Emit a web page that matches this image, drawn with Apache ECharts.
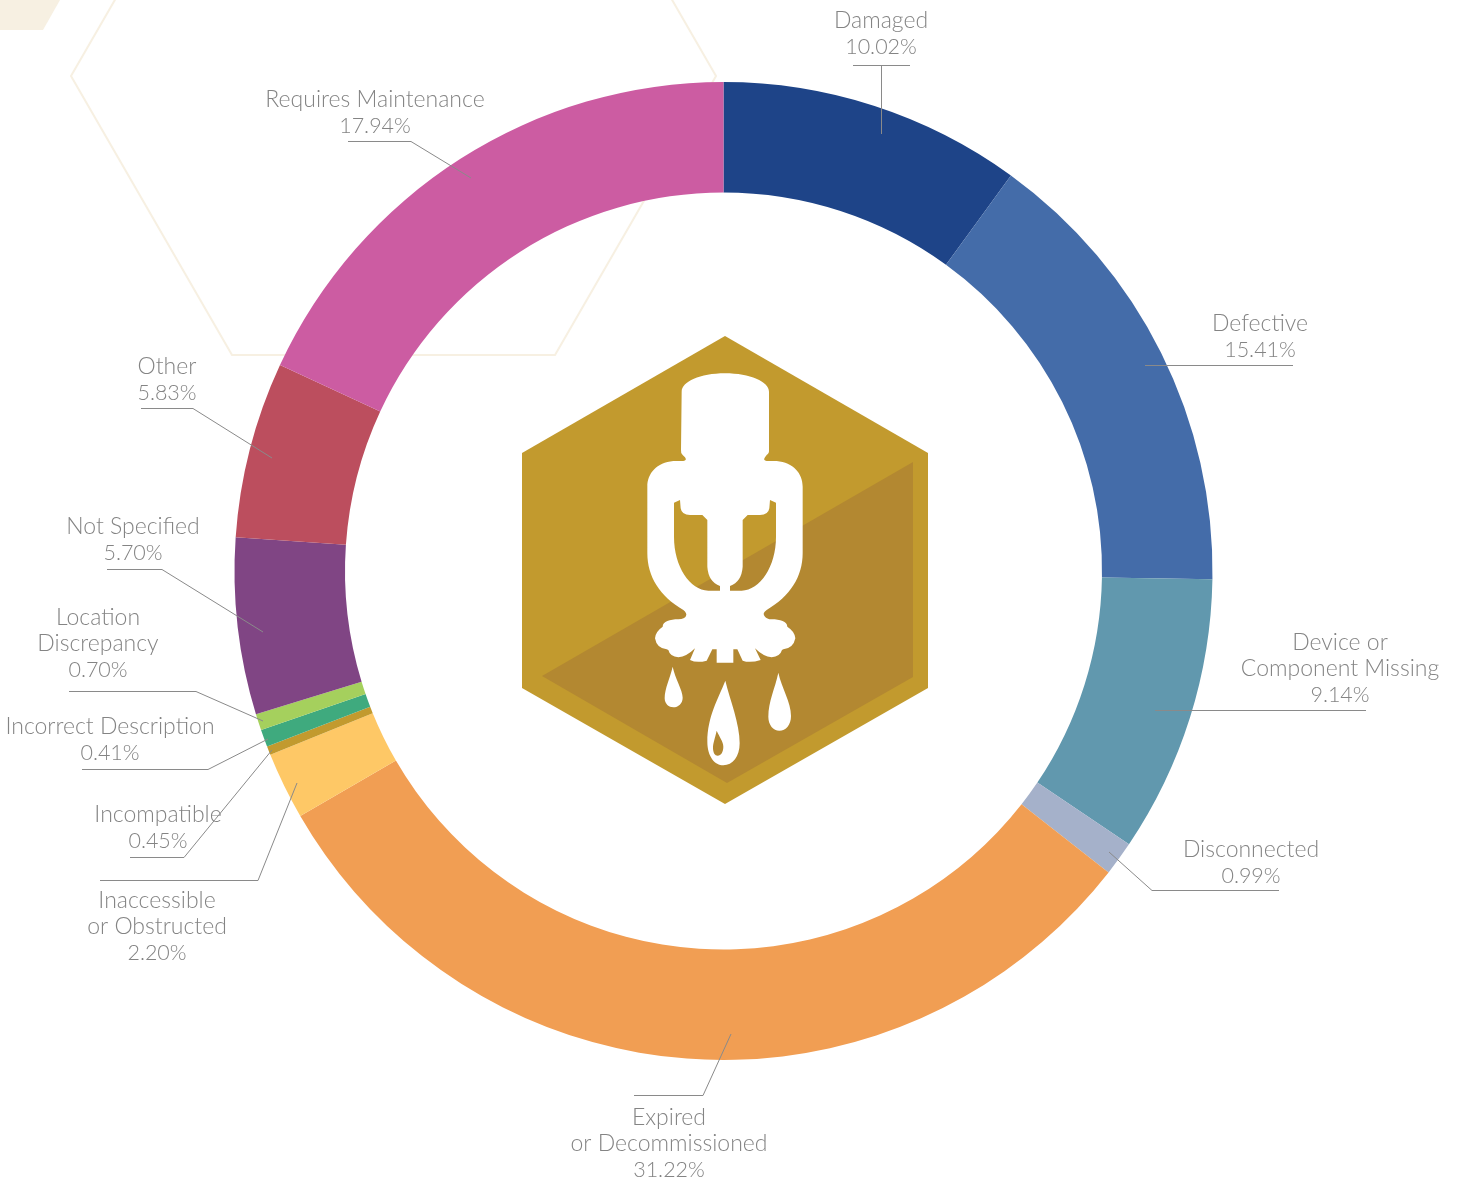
<!DOCTYPE html>
<html>
<head>
<meta charset="utf-8">
<style>html,body{margin:0;padding:0;background:#fff}#c{width:1460px;height:1182px}</style>
<script src="https://cdn.jsdelivr.net/npm/echarts@6/dist/echarts.min.js"></script>
</head>
<body>
<div id="c"></div>
<script>
const categories = ['Damaged','Defective','Device or\nComponent Missing','Disconnected','Expired\nor Decommissioned','Inaccessible\nor Obstructed','Incompatible','Incorrect Description','Location\nDiscrepancy','Not Specified','Other','Requires Maintenance'];
// The percentages printed in the reference's labels.
const printedPercent = [10.02,15.41,9.14,0.99,31.22,2.20,0.45,0.41,0.70,5.70,5.83,17.94];
// The arc sizes as actually drawn in the reference (measured from slice boundaries); they differ slightly from the printed figures.
const arcShares = [10.00,15.27,9.17,1.13,31.08,2.22,0.29,0.57,0.54,5.83,5.82,18.08];
const colors = ['#1e4488','#446ca9','#6198ae','#a5b1ca','#f19e53','#fec866','#c29a2e','#3faa7e','#a5d05d','#804584','#bc4e5e','#cc5ca2'];
const labelCentres = [[881,34],[1260,337],[1340,669],[1251,863],[669,1144],[157,927],[158,828],[110,740],[98,644],[133,540],[167,380],[375,113]];
const leaders = [
 [[[853,65.5],[910,65.5]],[[881.5,65.5],[881.5,134]]],
 [[[1145,365.5],[1293,365.5]]],
 [[[1155,710.5],[1366,710.5]]],
 [[[1109,852],[1152,890.5],[1279,890.5]]],
 [[[731,1034],[703,1095.5],[634,1095.5]]],
 [[[297,783],[258,880.5],[100,880.5]]],
 [[[272,750],[184,857.5],[130,857.5]]],
 [[[268,739],[208,769.5],[82,769.5]]],
 [[[263,721],[196,691.5],[69,691.5]]],
 [[[263,632],[162,569.5],[107,569.5]]],
 [[[272,458],[193,408.5],[141,408.5]]],
 [[[471,178],[411,141.5],[348,141.5]]]
];
const sprinklerPath = 'M545 215C545 185 600 160 675 160C750 160 807 185 807 215L807 390Q808 400 800 405L795 412Q788 422 800 423L830 423C880 428 908 460 908 500L908 700C908 770 870 830 800 870Q785 880 795 890Q800 897 815 898C840 898 862 905 862 920Q885 935 886 955Q880 985 850 988L846 990Q840 1010 815 1012Q790 1010 765 985L782 1020Q750 1030 728 1022L712 988L700 988L700 1028L650 1028L650 988L637 988L620 1022Q590 1030 570 1020L585 985Q560 1010 535 1012Q510 1010 505 990L500 988Q470 985 465 955Q466 935 488 920C488 905 510 898 535 898Q555 897 558 888Q562 880 550 870C480 830 442 770 442 700L442 500C442 460 470 428 520 423L550 423Q562 422 555 412L548 405Q542 400 543 390Z'
 + 'M522 548L522 650C522 740 570 810 625 812L660 812L660 798Q625 785 622 740L622 600L607 585L570 585Q545 585 542 565L540 540Z'
 + 'M828 548L810 540L808 565Q805 585 780 585L743 585L728 600L728 740Q725 785 690 798L690 812L725 812C780 810 828 740 828 650Z'
 + 'M518 1040C510 1075 494 1105 494 1135C494 1152 507 1162 520 1162C535 1162 548 1150 548 1133C548 1110 525 1075 518 1040Z'
 + 'M835 1058C825 1105 805 1145 805 1190C805 1215 820 1232 838 1232C858 1232 873 1215 873 1188C873 1145 845 1105 835 1058Z'
 + 'M676 1082C655 1135 622 1190 622 1265C622 1310 645 1336 670 1336C698 1336 719 1310 719 1270C719 1210 690 1140 676 1082Z'
 + 'M650 1232C658 1250 670 1265 670 1280C670 1295 663 1307 653 1307C645 1307 639 1298 639 1283C639 1270 645 1255 650 1232Z';

echarts.graphic.registerShape('sprinkler', echarts.graphic.extendPath(sprinklerPath, {}));
const chart = echarts.init(document.getElementById('c'), null, {renderer:'canvas'});
const lineEls = [];
leaders.forEach(group => group.forEach(points => lineEls.push({
  type:'polyline', z:10, silent:true, shape:{points},
  style:{stroke:'#8a8a8a', lineWidth:1, fill:null}
})));
const textBase = {fontFamily:'Lato', fontWeight:300, color:'#848484', lineHeight:26, align:'center'};
chart.setOption({
  animation:false,
  backgroundColor:'#fff',
  series:[{
    type:'pie', z:2,
    center:[723.5,571], radius:[378.5,489], startAngle:90, clockwise:true,
    avoidLabelOverlap:false, minAngle:0,
    data:categories.map((name,i)=>({name,value:arcShares[i],itemStyle:{color:colors[i]}})),
    label:{
      show:true, position:'outside',
      ...textBase, fontSize:23,
      formatter:p=>p.name.split('\n').map(s=>'{n|'+s+'}').join('\n')+'\n{v|'+printedPercent[p.dataIndex].toFixed(2)+'%}',
      rich:{n:{...textBase,fontSize:23},v:{...textBase,fontSize:21.5}}
    },
    labelLine:{show:false},
    labelLayout:p=>({x:labelCentres[p.dataIndex][0],y:labelCentres[p.dataIndex][1],align:'center',verticalAlign:'middle',hideOverlap:false}),
    emphasis:{disabled:true}
  }],
  graphic:{elements:[
    {type:'polygon',z:0,silent:true,shape:{points:[[0,0],[60,0],[43,30],[0,30]]},style:{fill:'#f7f0e2'}},
    {type:'polygon',z:0,silent:true,shape:{points:[[232,-203],[555,-203],[716,76],[555,355],[232,355],[71,76]]},style:{fill:null,stroke:'#f7f0e2',lineWidth:2}},
    {type:'polygon',z:5,silent:true,shape:{points:[[725,336],[928,453],[928,688],[725,804],[522,688],[522,453]]},style:{fill:'#c29a2e'}},
    {type:'polygon',z:6,silent:true,shape:{points:[[913,462],[913,677],[727,783],[542,676]]},style:{fill:'#b38831'}},
    {type:'sprinkler',z:7,silent:true,x:500,y:320,scaleX:1/3,scaleY:1/3,style:{fill:'#fff'}},
    ...lineEls
  ]}
});
</script>
</body>
</html>
